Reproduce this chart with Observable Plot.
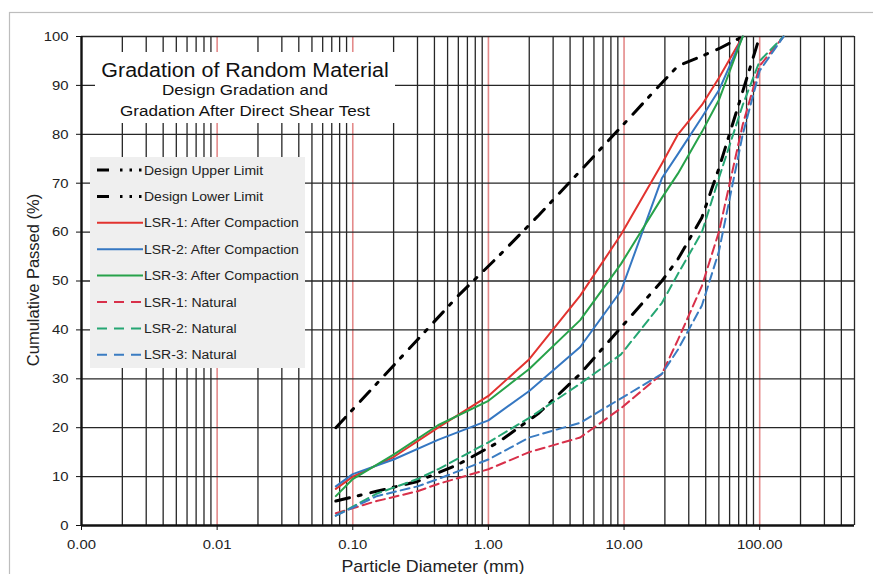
<!DOCTYPE html>
<html><head><meta charset="utf-8">
<script src="https://cdn.jsdelivr.net/npm/d3@7"></script>
<script src="https://cdn.jsdelivr.net/npm/@observablehq/plot@0.6"></script>
<style>
html,body{margin:0;padding:0;background:#fff;overflow:hidden;}
#wrap{position:relative;width:873px;height:574px;font-family:"Liberation Sans",Arial,sans-serif;}
#wrap > svg{position:absolute;left:0;top:0;}
</style></head><body><div id="wrap"></div>
<script>
// ---- data ----
const xTicks = [0.001, 0.01, 0.1, 1, 10, 100];
const yTicks = [0, 10, 20, 30, 40, 50, 60, 70, 80, 90, 100];
const decadeLines = [0.01, 0.1, 1, 10, 100];

const titleText = "Gradation of Random Material";
const subtitleLines = ["Design Gradation and", "Gradation After Direct Shear Test"];
const xLabel = "Particle Diameter (mm)";
const yLabel = "Cumulative Passed (%)";

const seriesNames = ["Design Upper Limit", "Design Lower Limit",
  "LSR-1: After Compaction", "LSR-2: After Compaction", "LSR-3: After Compaction",
  "LSR-1: Natural", "LSR-2: Natural", "LSR-3: Natural"];

const upperD = [0.075, 0.15, 0.3, 0.6, 1.18, 2.36, 4.75, 9.5, 19, 25, 37.5, 50, 75];
const upperLimit = [20, 29, 38, 47, 55, 63.5, 72.5, 81.5, 90.5, 94, 96, 97.5, 100];
const lowerD = [0.075, 0.15, 0.3, 0.6, 1.18, 2.36, 4.75, 9.5, 19, 25, 37.5, 50, 100];
const lowerLimit = [5, 7, 9, 12.5, 17, 23, 31, 40.5, 50, 54.5, 63, 73, 100];

const compD = [0.075, 0.1, 0.2, 0.425, 1, 2, 4.75, 9.5, 19, 25, 37.5, 50, 75];
const lsr1After = [7.5, 10, 14, 20, 26.5, 34, 47, 59.5, 74, 80, 86, 91.5, 100];
const lsr2After = [8, 10.5, 13.5, 17.5, 21.5, 27.5, 36.5, 48, 71, 76, 83.5, 89, 100];
const lsr3After = [6, 9.5, 14.5, 20.5, 25.5, 32, 42, 53.5, 67, 72, 80.5, 87, 100];

const natD = [0.075, 0.15, 0.3, 0.425, 1, 2, 4.75, 9.5, 19, 25, 37.5, 50, 75, 100, 150];
const lsr1Nat = [2.5, 5, 7, 8.5, 11.5, 15, 18, 24, 31, 38, 49, 60, 82, 94, 100];
const lsr2Nat = [2, 6.5, 9.5, 11.5, 17, 22, 29, 35, 45.5, 51.5, 60, 71, 86, 95, 100];
const lsr3Nat = [2, 6, 8, 9.5, 13.5, 18, 21, 26, 31, 36, 45, 56, 80, 93, 100];

const seriesD = [upperD, lowerD, compD, compD, compD, natD, natD, natD];
const seriesV = [upperLimit, lowerLimit, lsr1After, lsr2After, lsr3After, lsr1Nat, lsr2Nat, lsr3Nat];

// ---- styles ----
const styles = [
  {stroke: "#000", w: 3, dash: "14,9,3,10", legDash: "12,11,2.5,7,2.5,7,2.5,30"},
  {stroke: "#000", w: 3, dash: "14,9,3,10", legDash: "12,11,2.5,7,2.5,7,2.5,30"},
  {stroke: "#e2332f", w: 2, dash: null, legDash: null},
  {stroke: "#3577c2", w: 2, dash: null, legDash: null},
  {stroke: "#27a24a", w: 2, dash: null, legDash: null},
  {stroke: "#d8304a", w: 2, dash: "9,5", legDash: "10,7"},
  {stroke: "#25a673", w: 2, dash: "9,5", legDash: "10,7"},
  {stroke: "#3a7cc2", w: 2, dash: "9,5", legDash: "10,7"}
];

const minorLines = [];
for (const e of [-3, -2, -1, 0, 1, 2]) for (let k = 2; k <= 9; k++) {
  const v = +(k * Math.pow(10, e)).toPrecision(3);
  if (v <= 500) minorLines.push(v);
}
const gridY = yTicks.filter(d => d > 0);

const lineMarks = seriesD.map((ds, i) => {
  const rows = ds.map((d, j) => ({d, v: seriesV[i][j], s: seriesNames[i]}));
  const st = styles[i];
  return Plot.line(rows, {x: "d", y: "v", stroke: st.stroke, strokeWidth: st.w,
    strokeDasharray: st.dash || undefined, strokeLinejoin: "round"});
});

const chart = Plot.plot({
  width: 873, height: 574,
  marginLeft: 81, marginRight: 19, marginTop: 36, marginBottom: 49,
  x: {type: "log", domain: [0.001, 500]},
  y: {domain: [0, 100]},
  style: {fontFamily: "'Liberation Sans', Arial, sans-serif", fontSize: "13.5px", color: "#222", background: "transparent"},
  marks: [
    Plot.ruleX(minorLines, {stroke: "#262626", strokeWidth: 1.3}),
    Plot.ruleX(decadeLines, {stroke: "#e48a8a", strokeWidth: 1.6}),
    Plot.ruleY(gridY, {stroke: "#262626", strokeWidth: 1.3}),
    ...lineMarks,
    Plot.ruleX([0.001], {stroke: "#111", strokeWidth: 2.4}),
    Plot.ruleY([0], {stroke: "#111", strokeWidth: 2.4}),
    Plot.axisX({ticks: xTicks, tickFormat: d3.format(".2f"), tickSize: 5, tickPadding: 9, label: null, stroke: "#111"}),
    Plot.axisY({ticks: yTicks, tickSize: 5, tickPadding: 8, label: null, stroke: "#111"})
  ]
});

const wrap = document.getElementById("wrap");
wrap.appendChild(chart);

// stretch tick labels horizontally to match reference proportions
const K = 1.1;
d3.select(chart).selectAll('g[aria-label$="tick label"] text').each(function() {
  const L = this.getComputedTextLength();
  this.setAttribute("textLength", L * K);
  this.setAttribute("lengthAdjust", "spacingAndGlyphs");
});

// ---- overlay: frame, title box, legend, axis titles ----
const ov = d3.select(wrap).append("svg")
  .attr("width", 873).attr("height", 574)
  .style("font-family", "'Liberation Sans', Arial, sans-serif");

ov.append("rect").attr("x", 9.5).attr("y", 12.5).attr("width", 900).attr("height", 600)
  .attr("fill", "none").attr("stroke", "#bdbdbd").attr("stroke-width", 1.2);

function stretch(sel, k) {
  sel.each(function() {
    const L = this.getComputedTextLength();
    this.setAttribute("textLength", L * k);
    this.setAttribute("lengthAdjust", "spacingAndGlyphs");
  });
  return sel;
}

// title box
ov.append("rect").attr("x", 95).attr("y", 52).attr("width", 300).attr("height", 71).attr("fill", "#fff");
stretch(ov.append("text").attr("x", 245).attr("y", 77).attr("text-anchor", "middle")
  .attr("font-size", 19.5).attr("fill", "#111").text(titleText), K);
stretch(ov.append("text").attr("x", 245).attr("y", 94.5).attr("text-anchor", "middle")
  .attr("font-size", 15.5).attr("fill", "#111").text(subtitleLines[0]), K);
stretch(ov.append("text").attr("x", 245).attr("y", 116).attr("text-anchor", "middle")
  .attr("font-size", 15.5).attr("fill", "#111").text(subtitleLines[1]), K);

// legend
ov.append("rect").attr("x", 90).attr("y", 157).attr("width", 215).attr("height", 211).attr("fill", "#efefef");
seriesNames.forEach((name, i) => {
  const yc = 170 + i * 26.4;
  const st = styles[i];
  ov.append("line").attr("x1", 97).attr("x2", 143).attr("y1", yc).attr("y2", yc)
    .attr("stroke", st.stroke).attr("stroke-width", st.w)
    .attr("stroke-dasharray", st.legDash || null);
  stretch(ov.append("text").attr("x", 144).attr("y", yc + 4.5)
    .attr("font-size", 12.5).attr("fill", "#222").text(name), 1.12);
});

// axis titles
stretch(ov.append("text").attr("x", 433).attr("y", 571.5).attr("text-anchor", "middle")
  .attr("font-size", 16.2).attr("fill", "#222").text(xLabel), K);
ov.append("text").attr("transform", "translate(39,280) rotate(-90)").attr("text-anchor", "middle")
  .attr("font-size", 16.5).attr("fill", "#222").text(yLabel);
</script></body></html>
